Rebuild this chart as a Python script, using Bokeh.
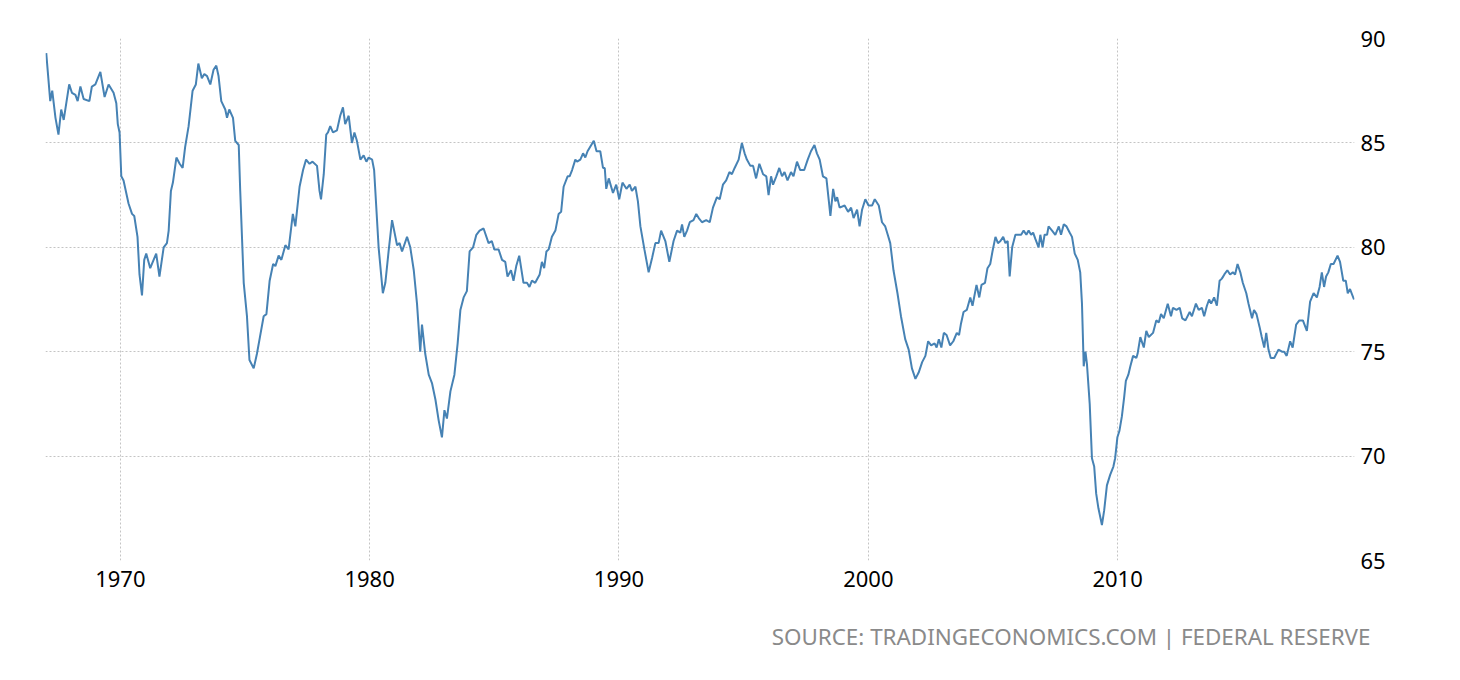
from bokeh.plotting import figure
from bokeh.models import Title, Range1d, FixedTicker
from bokeh.embed import file_html
from bokeh.resources import INLINE

years = [
    1967.03, 1967.19, 1967.27, 1967.40, 1967.52, 1967.63, 1967.73, 1967.95,
    1968.06, 1968.20, 1968.29, 1968.40, 1968.53, 1968.76, 1968.86,
    1969.00, 1969.20, 1969.37, 1969.53, 1969.73, 1969.84, 1969.90, 1969.97,
    1970.04, 1970.13, 1970.33, 1970.47, 1970.56, 1970.69, 1970.77, 1970.87, 1970.96,
    1971.04, 1971.20, 1971.44, 1971.57, 1971.74, 1971.87, 1971.94,
    1972.03, 1972.11, 1972.25, 1972.38, 1972.50, 1972.60, 1972.74, 1972.90,
    1973.03, 1973.13, 1973.27, 1973.37, 1973.48, 1973.61, 1973.74, 1973.85, 1973.94,
    1974.05, 1974.21, 1974.28, 1974.37, 1974.52, 1974.61, 1974.75, 1974.81, 1974.95,
    1975.08, 1975.18, 1975.35, 1975.48, 1975.60, 1975.75, 1975.86, 1975.99,
    1976.13, 1976.22, 1976.35, 1976.46, 1976.62, 1976.75, 1976.92,
    1977.02, 1977.19, 1977.33, 1977.45, 1977.59, 1977.71, 1977.89, 1977.99,
    1978.05, 1978.16, 1978.26, 1978.33, 1978.42, 1978.53, 1978.69, 1978.82, 1978.93,
    1979.02, 1979.16, 1979.29, 1979.39, 1979.49, 1979.63, 1979.76, 1979.87, 1979.96,
    1980.10, 1980.18, 1980.36, 1980.53, 1980.63, 1980.76, 1980.90,
    1981.10, 1981.20, 1981.30, 1981.50, 1981.63, 1981.77, 1981.90,
    1982.03, 1982.10, 1982.23, 1982.37, 1982.50, 1982.64, 1982.77, 1982.90,
    1983.00, 1983.10, 1983.24, 1983.40, 1983.53, 1983.64, 1983.77, 1983.90,
    1984.01, 1984.15, 1984.28, 1984.41, 1984.57, 1984.77, 1984.90,
    1985.00, 1985.17, 1985.31, 1985.44, 1985.53, 1985.67, 1985.77, 1985.88,
    1986.00, 1986.17, 1986.31, 1986.41, 1986.51, 1986.64, 1986.82, 1986.91,
    1987.00, 1987.09, 1987.18, 1987.31, 1987.45, 1987.58, 1987.68, 1987.78, 1987.94,
    1988.02, 1988.12, 1988.25, 1988.32, 1988.45, 1988.56, 1988.65, 1988.74, 1988.89, 1988.99,
    1989.10, 1989.25, 1989.36, 1989.43, 1989.49, 1989.59, 1989.76, 1989.89,
    1990.01, 1990.14, 1990.30, 1990.43, 1990.52, 1990.66, 1990.76, 1990.86,
    1991.02, 1991.19, 1991.33, 1991.46, 1991.59, 1991.69, 1991.86,
    1992.02, 1992.19, 1992.33, 1992.46, 1992.53, 1992.62, 1992.73, 1992.84, 1992.99,
    1993.10, 1993.20, 1993.33, 1993.50, 1993.64, 1993.77, 1993.93,
    1994.04, 1994.17, 1994.30, 1994.43, 1994.53, 1994.64, 1994.80, 1994.93,
    1995.04, 1995.13, 1995.27, 1995.38, 1995.50, 1995.63, 1995.78, 1995.91,
    1996.00, 1996.10, 1996.18, 1996.31, 1996.43, 1996.54, 1996.64, 1996.76, 1996.90,
    1997.00, 1997.14, 1997.27, 1997.43, 1997.57, 1997.70, 1997.84, 1997.94,
    1998.05, 1998.18, 1998.32, 1998.41, 1998.48, 1998.59, 1998.68, 1998.75, 1998.85,
    1999.05, 1999.19, 1999.31, 1999.41, 1999.55, 1999.65, 1999.75, 1999.88,
    2000.01, 2000.15, 2000.26, 2000.42, 2000.55, 2000.68, 2000.78, 2000.88,
    2001.01, 2001.17, 2001.31, 2001.48, 2001.62, 2001.75, 2001.89,
    2002.02, 2002.16, 2002.29, 2002.40, 2002.52, 2002.66, 2002.74, 2002.83, 2002.93,
    2003.03, 2003.14, 2003.28, 2003.41, 2003.55, 2003.64, 2003.71, 2003.82, 2003.95,
    2004.09, 2004.18, 2004.34, 2004.45, 2004.54, 2004.68, 2004.78, 2004.89, 2004.98,
    2005.10, 2005.20, 2005.30, 2005.41, 2005.50, 2005.59, 2005.67, 2005.77, 2005.90,
    2006.03, 2006.13, 2006.23, 2006.34, 2006.43, 2006.53, 2006.61, 2006.70, 2006.83, 2006.90, 2006.99,
    2007.07, 2007.17, 2007.23, 2007.37, 2007.50, 2007.64, 2007.73, 2007.84, 2007.95,
    2008.08, 2008.17, 2008.28, 2008.40, 2008.50, 2008.57, 2008.64, 2008.71, 2008.77, 2008.88, 2008.97,
    2009.06, 2009.14, 2009.23, 2009.37, 2009.46, 2009.57, 2009.70, 2009.83, 2009.90, 2009.99,
    2010.07, 2010.17, 2010.26, 2010.33, 2010.43, 2010.51, 2010.62, 2010.75, 2010.80, 2010.91,
    2011.05, 2011.15, 2011.25, 2011.42, 2011.55, 2011.65, 2011.74, 2011.85,
    2012.01, 2012.14, 2012.22, 2012.36, 2012.49, 2012.59, 2012.72, 2012.89, 2012.98,
    2013.14, 2013.25, 2013.38, 2013.47, 2013.58, 2013.67, 2013.75, 2013.87, 2013.98,
    2014.09, 2014.18, 2014.28, 2014.40, 2014.51, 2014.62, 2014.71, 2014.81, 2014.92,
    2015.02, 2015.16, 2015.25, 2015.39, 2015.47, 2015.57, 2015.69, 2015.78, 2015.88, 2015.96,
    2016.05, 2016.14, 2016.28, 2016.45, 2016.59, 2016.68, 2016.78, 2016.92,
    2017.02, 2017.16, 2017.29, 2017.43, 2017.59, 2017.72, 2017.86, 2017.99,
    2018.10, 2018.19, 2018.28, 2018.36, 2018.45, 2018.55, 2018.66, 2018.82, 2018.92,
    2019.05, 2019.15, 2019.23, 2019.32, 2019.48,
]

utilization = [
    89.3, 87.0, 87.5, 86.2, 85.4, 86.6, 86.1, 87.8,
    87.4, 87.3, 87.0, 87.7, 87.1, 87.0, 87.7,
    87.8, 88.4, 87.2, 87.8, 87.4, 86.9, 85.9, 85.5,
    83.4, 83.2, 82.1, 81.6, 81.5, 80.5, 78.7, 77.7, 79.4,
    79.7, 79.0, 79.7, 78.6, 80.0, 80.2, 80.8,
    82.7, 83.1, 84.3, 84.0, 83.8, 84.8, 85.8, 87.5,
    87.8, 88.8, 88.1, 88.3, 88.2, 87.8, 88.5, 88.7, 88.2,
    87.0, 86.6, 86.2, 86.6, 86.2, 85.1, 84.9, 82.7, 78.3,
    76.7, 74.6, 74.2, 74.9, 75.7, 76.7, 76.8, 78.4,
    79.2, 79.1, 79.6, 79.4, 80.1, 79.9, 81.6,
    81.0, 82.9, 83.7, 84.2, 84.0, 84.1, 83.9, 82.7,
    82.3, 83.5, 85.4, 85.5, 85.8, 85.5, 85.6, 86.3, 86.7,
    85.9, 86.3, 85.0, 85.5, 85.1, 84.2, 84.4, 84.1, 84.3,
    84.2, 83.7, 80.0, 77.8, 78.3, 79.8, 81.3,
    80.1, 80.2, 79.8, 80.5, 80.0, 78.9, 77.3,
    75.0, 76.3, 74.9, 73.9, 73.5, 72.7, 71.7, 70.9,
    72.2, 71.8, 73.1, 73.9, 75.4, 77.0, 77.6, 77.9,
    79.8, 80.0, 80.6, 80.8, 80.9, 80.2, 80.3,
    79.9, 79.9, 79.4, 79.3, 78.6, 78.9, 78.4, 79.1,
    79.6, 78.3, 78.3, 78.1, 78.4, 78.3, 78.7, 79.3,
    79.0, 79.8, 79.9, 80.5, 80.8, 81.6, 81.7, 82.9, 83.4,
    83.4, 83.7, 84.2, 84.1, 84.2, 84.5, 84.3, 84.6, 84.9, 85.1,
    84.6, 84.6, 83.8, 83.8, 82.8, 83.3, 82.6, 83.0,
    82.3, 83.1, 82.8, 83.0, 82.7, 82.9, 82.2, 81.0,
    79.9, 78.8, 79.5, 80.2, 80.2, 80.8, 80.3,
    79.3, 80.3, 80.8, 80.7, 81.1, 80.5, 80.8, 81.2, 81.3,
    81.6, 81.4, 81.2, 81.3, 81.2, 81.9, 82.4,
    82.3, 83.0, 83.2, 83.6, 83.5, 83.8, 84.2, 85.0,
    84.5, 84.2, 83.9, 83.9, 83.3, 84.0, 83.5, 83.4,
    82.5, 83.4, 83.0, 83.4, 83.8, 83.4, 83.6, 83.2, 83.6,
    83.4, 84.1, 83.7, 83.7, 84.2, 84.6, 84.9, 84.5,
    84.2, 83.4, 83.3, 82.3, 81.5, 82.8, 82.2, 82.4, 81.9,
    82.0, 81.7, 81.9, 81.4, 81.8, 81.0, 81.8, 82.3,
    82.0, 82.0, 82.3, 82.0, 81.2, 81.0, 80.6, 80.2,
    78.9, 77.8, 76.7, 75.6, 75.1, 74.2, 73.7,
    74.0, 74.5, 74.8, 75.5, 75.3, 75.4, 75.2, 75.6, 75.2,
    75.9, 75.8, 75.3, 75.5, 75.9, 75.8, 76.3, 76.9, 77.0,
    77.6, 77.2, 78.2, 77.6, 78.2, 78.3, 79.0, 79.2, 79.8,
    80.5, 80.2, 80.3, 80.5, 80.2, 80.3, 78.6, 80.0, 80.6,
    80.6, 80.6, 80.8, 80.6, 80.8, 80.6, 80.7, 80.4, 80.0, 80.6, 80.0,
    80.6, 80.6, 81.0, 80.8, 80.6, 81.0, 80.6, 81.1, 81.0,
    80.7, 80.5, 79.7, 79.4, 78.8, 77.3, 74.3, 75.0, 74.4, 72.5, 69.9,
    69.5, 68.2, 67.5, 66.7, 67.4, 68.6, 69.1, 69.5, 69.9, 70.9,
    71.2, 71.9, 72.8, 73.6, 73.9, 74.3, 74.8, 74.7, 74.9, 75.7,
    75.2, 76.0, 75.7, 75.9, 76.5, 76.4, 76.8, 76.6,
    77.3, 76.7, 77.1, 77.0, 77.1, 76.6, 76.5, 76.9, 76.7,
    77.3, 77.0, 77.1, 76.7, 77.2, 77.5, 77.3, 77.6, 77.2,
    78.4, 78.5, 78.7, 78.9, 78.7, 78.8, 78.7, 79.2, 78.8,
    78.3, 77.8, 77.3, 76.6, 77.0, 76.8, 76.2, 75.7, 75.2, 75.9,
    75.1, 74.7, 74.7, 75.1, 75.0, 75.0, 74.8, 75.5,
    75.2, 76.3, 76.5, 76.5, 76.0, 77.4, 77.8, 77.6,
    78.1, 78.8, 78.1, 78.6, 78.8, 79.2, 79.2, 79.6, 79.3,
    78.4, 78.4, 77.8, 78.0, 77.5,
]

x_ticks = [1970, 1980, 1990, 2000, 2010]
y_ticks = [65, 70, 75, 80, 85, 90]
source_text = "SOURCE: TRADINGECONOMICS.COM | FEDERAL RESERVE"

p = figure(
    width=1460, height=680,
    output_backend="svg", toolbar_location=None,
    x_range=Range1d(1967.0, 2019.5), y_range=Range1d(65, 90),
    y_axis_location="right",
    min_border_left=45, min_border_right=106,
    min_border_top=38, min_border_bottom=120,
)
p.outline_line_color = None
p.background_fill_color = "white"
p.border_fill_color = "white"

p.line(years, utilization, line_color="#4682b4", line_width=2)

for ax in (p.xaxis[0], p.yaxis[0]):
    ax.axis_line_color = None
    ax.major_tick_line_color = None
    ax.minor_tick_line_color = None
    ax.major_label_text_font = "Noto Sans"
    ax.major_label_text_font_size = "22px"
    ax.major_label_text_color = "#000000"

p.xaxis.ticker = FixedTicker(ticks=x_ticks)
p.yaxis.ticker = FixedTicker(ticks=y_ticks)
p.xaxis.major_label_standoff = 4
p.yaxis.major_label_standoff = 0

for g in (p.xgrid[0], p.ygrid[0]):
    g.grid_line_color = "#c4c4c4"
    g.grid_line_dash = "2 2"
    g.grid_line_width = 1
p.xgrid.ticker = FixedTicker(ticks=x_ticks)
p.ygrid.ticker = FixedTicker(ticks=y_ticks)

src = Title(
    text=source_text, align="right", offset=-16,
    text_font="Noto Sans", text_font_size="22.4px", text_font_style="normal",
    text_color="#8a8a8a", standoff=58,
)
p.add_layout(src, "below")

open("out.html", "w").write(file_html(p, INLINE))
